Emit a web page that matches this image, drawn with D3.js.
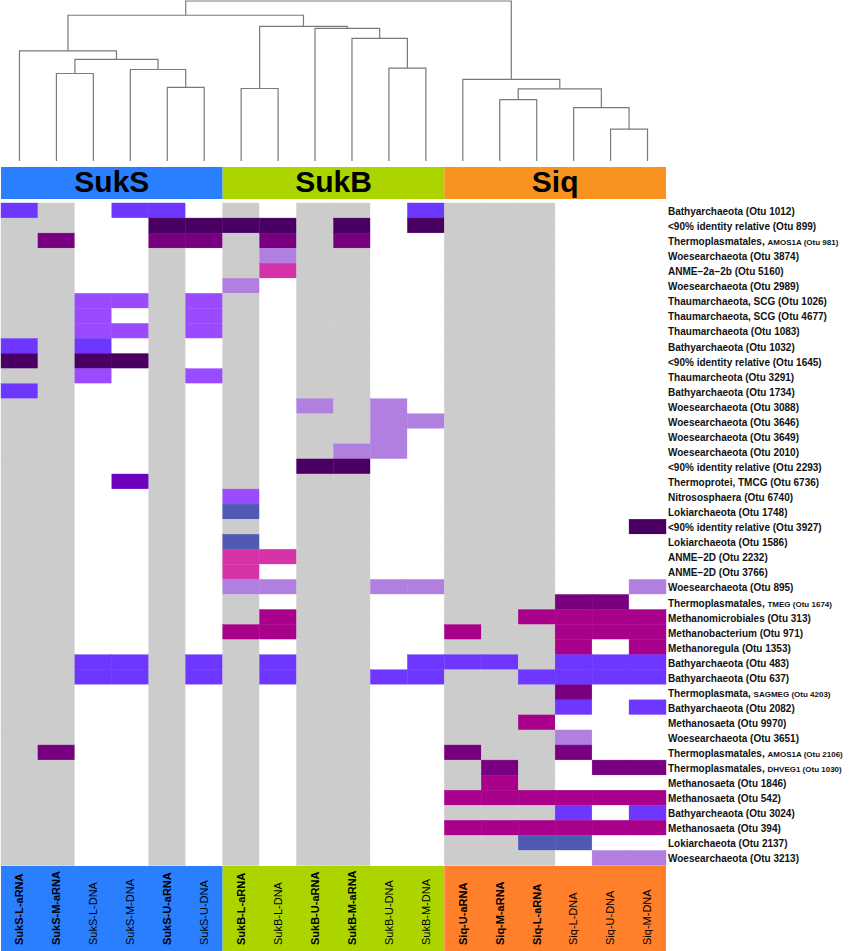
<!DOCTYPE html>
<html>
<head>
<meta charset="utf-8">
<script src="https://cdn.jsdelivr.net/npm/d3@7"></script>
<style>
body { margin: 0; background: white; }
text { font-family: "Liberation Sans", Arial, Helvetica, sans-serif; }
</style>
</head>
<body>
<div id="chart"></div>
<script>
var width = 851
var height = 951

// Samples (columns), left to right
var samples = ["SukS-L-aRNA", "SukS-M-aRNA", "SukS-L-DNA", "SukS-M-DNA", "SukS-U-aRNA", "SukS-U-DNA",
    "SukB-L-aRNA", "SukB-L-DNA", "SukB-U-aRNA", "SukB-M-aRNA", "SukB-U-DNA", "SukB-M-DNA",
    "Siq-U-aRNA", "Siq-M-aRNA", "Siq-L-aRNA", "Siq-L-DNA", "Siq-U-DNA", "Siq-M-DNA"];
var sites = ["SukS", "SukB", "Siq"];
var siteColors = ["#2a7fff", "#acd500", "#f7931e"];
var siteColorsBottom = ["#2a7fff", "#acd500", "#ff7f2a"];

// OTU rows, top to bottom ("|" starts the small-print part)
var otus = ["Bathyarchaeota (Otu 1012)", "<90% identity relative (Otu 899)", "Thermoplasmatales, |AMOS1A (Otu 981)",
    "Woesearchaeota (Otu 3874)", "ANME\u22122a\u22122b (Otu 5160)", "Woesearchaeota (Otu 2989)",
    "Thaumarchaeota, SCG (Otu 1026)", "Thaumarchaeota, SCG (Otu 4677)", "Thaumarchaeota (Otu 1083)",
    "Bathyarchaeota (Otu 1032)", "<90% identity relative (Otu 1645)", "Thaumarcheota (Otu 3291)",
    "Bathyarchaeota (Otu 1734)", "Woesearchaeota (Otu 3088)", "Woesearchaeota (Otu 3646)",
    "Woesearchaeota (Otu 3649)", "Woesearchaeota (Otu 2010)", "<90% identity relative (Otu 2293)",
    "Thermoprotei, TMCG (Otu 6736)", "Nitrososphaera (Otu 6740)", "Lokiarchaeota (Otu 1748)",
    "<90% identity relative (Otu 3927)", "Lokiarchaeota (Otu 1586)", "ANME\u22122D (Otu 2232)",
    "ANME\u22122D (Otu 3766)", "Woesearchaeota (Otu 895)", "Thermoplasmatales, |TMEG (Otu 1674)",
    "Methanomicrobiales (Otu 313)", "Methanobacterium (Otu 971)", "Methanoregula (Otu 1353)",
    "Bathyarchaeota (Otu 483)", "Bathyarchaeota (Otu 637)", "Thermoplasmata, |SAGMEG (Otu 4203)",
    "Bathyarchaeota (Otu 2082)", "Methanosaeta (Otu 9970)", "Woesearchaeota (Otu 3651)",
    "Thermoplasmatales, |AMOS1A (Otu 2106)", "Thermoplasmatales, |DHVEG1 (Otu 1030)", "Methanosaeta (Otu 1846)",
    "Methanosaeta (Otu 542)", "Bathyarcheaota (Otu 3024)", "Methanosaeta (Otu 394)",
    "Lokiarchaeota (Otu 2137)", "Woesearchaeota (Otu 3213)"];

// One string per OTU, one character per sample (see codes below)
var cells = [
    "b-.bb.-.--.b---...",
    "--..dddd-d.d---...",
    "-p..pp-p-p..---...",
    "--..-.-l--..---...",
    "--..-.-k--..---...",
    "--..-.l.--..---...",
    "--mm-m-.--..---...",
    "--m.-m-.--..---...",
    "--mm-m-.--..---...",
    "b-b.-.-.--..---...",
    "d-dd-.-.--..---...",
    "--m.-m-.--..---...",
    "b-..-.-.--..---...",
    "--..-.-.l-l.---...",
    "--..-.-.--ll---...",
    "--..-.-.--l.---...",
    "--..-.-.-ll.---...",
    "--..-.-.dd..---...",
    "--.v-.-.--..---...",
    "--..-.m.--..---...",
    "--..-.s.--..---...",
    "--..-.-.--..---..d",
    "--..-.s.--..---...",
    "--..-.kk--..---...",
    "--..-.k.--..---...",
    "--..-.ll--ll---..l",
    "--..-.-.--..---pp.",
    "--..-.-g--..--gggg",
    "--..-.gg--..g--ggg",
    "--..-.-.--..---g.g",
    "--bb-b-b--.bbb-bbb",
    "--bb-b-b--bb--bbbb",
    "--..-.-.--..---p..",
    "--..-.-.--..---b.b",
    "--..-.-.--..--g...",
    "--..-.-.--..---l..",
    "-p..-.-.--..p--p..",
    "--..-.-.--..-p-.pp",
    "--..-.-.--..-g-...",
    "--..-.-.--..gggggg",
    "--..-.-.--..---b.b",
    "--..-.-.--..gggggg",
    "--..-.-.--..--ss..",
    "--..-.-.--..---.ll"
];
var codes = ["-", ".", "l", "m", "b", "v", "d", "p", "g", "k", "s"];
var codeColors = ["#cccccc", "#ffffff", "#b07fe0", "#9a4bff", "#6e37ff", "#7000c0",
    "#4a0062", "#780080", "#a8008a", "#d633a8", "#505ab5"];

// Column dendrogram, hclust style: negative = sample (1-based), positive = earlier merge
var merge = [
    [-17, -18], [-14, -15], [-16, 1], [2, 3], [-13, 4],
    [-5, -6], [-2, -3], [-7, -8], [-4, 6], [7, 9],
    [-11, -12], [-1, 10], [-10, 11], [-9, 13], [8, 14],
    [12, 15], [16, 5]
];
var mergeHeight = [0.199, 0.384, 0.334, 0.451, 0.51,
    0.46, 0.547, 0.453, 0.572, 0.635,
    0.581, 0.688, 0.767, 0.829, 0.842,
    0.911, 1.0];

// Scales

var x_scale = d3.scaleBand()
    .domain(samples)
    .range([1, 666]);

var y_scale = d3.scaleBand()
    .domain(otus)
    .range([203, 865.5]);

var h_scale = d3.scaleLinear()
    .domain([0, 1])
    .range([161, 1]);

var c_scale = d3.scaleOrdinal()
    .domain(codes)
    .range(codeColors);

var site_scale = d3.scaleBand()
    .domain(sites)
    .range([1, 666]);

var svg = d3.select("#chart")
    .append("svg")
    .attr("width", width)
    .attr("height", height)
    .style("background-color", "white");

// Dendrogram

function buildNode(ref) {
    if (ref < 0) return {name: samples[-ref - 1], h: 0};
    var m = merge[ref - 1];
    return {h: mergeHeight[ref - 1], children: [buildNode(m[0]), buildNode(m[1])]};
}
var root = d3.hierarchy(buildNode(merge.length));
root.eachAfter(function(d) {
    if (d.children) {
        d.x = (d.children[0].x + d.children[1].x) / 2;
    } else {
        d.x = x_scale(d.data.name) + x_scale.bandwidth() / 2;
    }
    d.y = h_scale(d.data.h);
});

svg.append("g")
    .selectAll("path")
    .data(root.descendants().filter(function(d) { return d.children; }))
    .enter()
    .append("path")
    .attr("d", function(d) {
        var a = d.children[0], b = d.children[1];
        return "M" + a.x + "," + a.y + "V" + d.y + "H" + b.x + "V" + b.y;
    })
    .attr("fill", "none")
    .attr("stroke", "#7a7a7a")
    .attr("stroke-width", 1.2);

// Site header bar

var header = svg.append("g");
header.selectAll("rect")
    .data(sites)
    .enter()
    .append("rect")
    .attr("x", function(d) { return site_scale(d); })
    .attr("y", 167)
    .attr("width", site_scale.bandwidth())
    .attr("height", 32)
    .attr("fill", function(d, i) { return siteColors[i]; });
header.selectAll("text")
    .data(sites)
    .enter()
    .append("text")
    .attr("x", function(d) { return site_scale(d) + site_scale.bandwidth() / 2; })
    .attr("y", 192)
    .attr("text-anchor", "middle")
    .attr("font-size", 30)
    .attr("font-weight", "bold")
    .attr("fill", "#000")
    .text(function(d) { return d; });

// Heatmap cells

var cellData = [];
otus.forEach(function(otu, r) {
    samples.forEach(function(s, c) {
        cellData.push({otu: otu, sample: s, code: cells[r][c]});
    });
});

svg.append("g")
    .selectAll("rect")
    .data(cellData)
    .enter()
    .append("rect")
    .attr("x", function(d) { return x_scale(d.sample); })
    .attr("y", function(d) { return y_scale(d.otu); })
    .attr("width", x_scale.bandwidth())
    .attr("height", y_scale.bandwidth())
    .attr("fill", function(d) { return c_scale(d.code); })
    .attr("stroke", function(d) { return c_scale(d.code); })
    .attr("stroke-width", 0.4);

// Row labels

var rowLabels = svg.append("g")
    .selectAll("text")
    .data(otus)
    .enter()
    .append("text")
    .attr("x", 668)
    .attr("y", function(d) { return y_scale(d) + y_scale.bandwidth() / 2; })
    .attr("dy", "0.45em")
    .attr("font-size", 10)
    .attr("font-weight", "bold")
    .attr("fill", "#111");
rowLabels.append("tspan")
    .text(function(d) { return d.split("|")[0]; });
rowLabels.append("tspan")
    .attr("font-size", 8)
    .text(function(d) { return d.split("|")[1] || ""; });

// Bottom sample bar and labels

var bottom = svg.append("g");
bottom.selectAll("rect")
    .data(sites)
    .enter()
    .append("rect")
    .attr("x", function(d) { return site_scale(d); })
    .attr("y", 866)
    .attr("width", site_scale.bandwidth())
    .attr("height", 85)
    .attr("fill", function(d, i) { return siteColorsBottom[i]; });

bottom.selectAll("text")
    .data(samples)
    .enter()
    .append("text")
    .attr("transform", function(d) {
        return "translate(" + (x_scale(d) + x_scale.bandwidth() / 2) + ",945) rotate(-90)";
    })
    .attr("dy", "0.35em")
    .attr("text-anchor", "start")
    .attr("font-size", 11)
    .attr("font-weight", function(d) { return d.indexOf("aRNA") >= 0 ? "bold" : "normal"; })
    .attr("fill", "#000")
    .text(function(d) { return d; });
</script>
</body>
</html>
